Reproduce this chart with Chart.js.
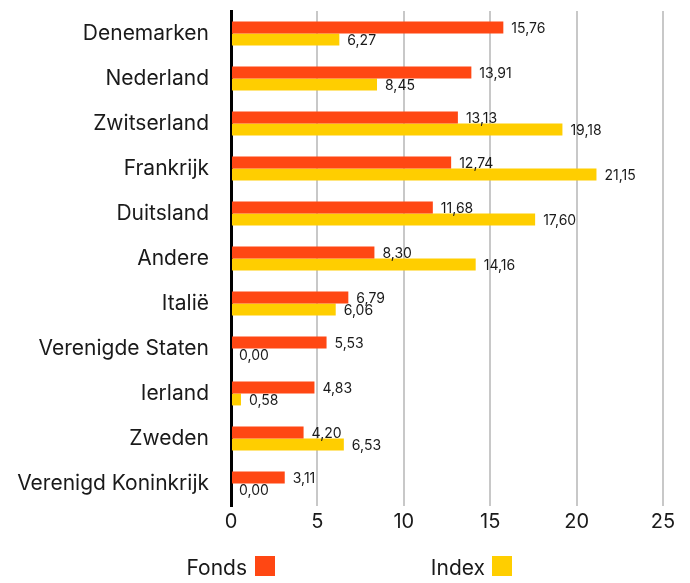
<!DOCTYPE html>
<html><head><meta charset="utf-8">
<script src="https://cdn.jsdelivr.net/npm/chart.js@4"></script>
<style>
html,body{margin:0;padding:0;background:#fff;}
#wrap{position:relative;width:690px;height:583px;}
canvas{display:block;}
.leg{position:absolute;font-family:Inter,sans-serif;font-size:21px;color:#1a1a1a;line-height:20px;text-align:right;width:120px;}
.sw{position:absolute;width:20px;height:20px;}
</style></head>
<body>
<div id="wrap">
<canvas id="c" width="690" height="583"></canvas>
<div class="leg" style="left:127px;top:558px;">Fonds</div>
<div class="sw" style="left:255px;top:556px;background:#FF4713;"></div>
<div class="leg" style="left:365px;top:558px;">Index</div>
<div class="sw" style="left:492px;top:556px;background:#FFCE00;"></div>
</div>
<script>
const categories = ["Denemarken","Nederland","Zwitserland","Frankrijk","Duitsland","Andere","Italië","Verenigde Staten","Ierland","Zweden","Verenigd Koninkrijk"];
const fondsValues = [15.76,13.91,13.13,12.74,11.68,8.30,6.79,5.53,4.83,4.20,3.11];
const indexValues = [6.27,8.45,19.18,21.15,17.60,14.16,6.06,0.00,0.58,6.53,0.00];
const xTicks = [0,5,10,15,20,25];

const FONT = 'Inter, sans-serif';

const labelPlugin = {
  id: 'valLabels',
  afterDatasetsDraw(chart) {
    const ctx = chart.ctx;
    ctx.save();
    ctx.font = '14px ' + FONT;
    ctx.fillStyle = '#1a1a1a';
    ctx.textBaseline = 'middle';
    ctx.textAlign = 'left';
    chart.data.datasets.forEach((ds, i) => {
      const meta = chart.getDatasetMeta(i);
      meta.data.forEach((bar, j) => {
        const v = ds.data[j];
        ctx.fillText(v.toFixed(2).replace('.', ','), bar.x + 8, bar.y + 1);
      });
    });
    ctx.restore();
  }
};

new Chart(document.getElementById('c'), {
  type: 'bar',
  data: {
    labels: categories,
    datasets: [
      {label: 'Fonds', data: fondsValues, backgroundColor: '#FF4713', barPercentage: 1, categoryPercentage: 0.53},
      {label: 'Index', data: indexValues, backgroundColor: '#FFCE00', barPercentage: 1, categoryPercentage: 0.53}
    ]
  },
  options: {
    indexAxis: 'y',
    responsive: false,
    animation: false,
    layout: {padding: {top: 11, bottom: 43, right: 27, left: 0}},
    plugins: {legend: {display: false}, tooltip: {enabled: false}},
    scales: {
      x: {
        min: 0, max: 25,
        afterBuildTicks: (s) => { s.ticks = xTicks.map(v => ({value: v})); },
        grid: {color: (c) => c.tick && c.tick.value === 0 ? 'rgba(0,0,0,0)' : '#c8c8c8', lineWidth: 2, drawTicks: false},
        border: {display: false},
        ticks: {font: {family: FONT, size: 20}, color: '#1a1a1a', padding: 4},
        afterFit: (s) => { s.height = 34; s.paddingLeft = 0; s.paddingRight = 0; }
      },
      y: {
        grid: {display: false},
        border: {display: true, color: '#000', width: 3},
        ticks: {font: {family: FONT, size: 21}, color: '#1a1a1a', padding: 14},
        afterFit: (s) => { s.width = 231; s.paddingTop = 0; s.paddingBottom = 0; }
      }
    }
  },
  plugins: [labelPlugin]
});
</script>
</body></html>
